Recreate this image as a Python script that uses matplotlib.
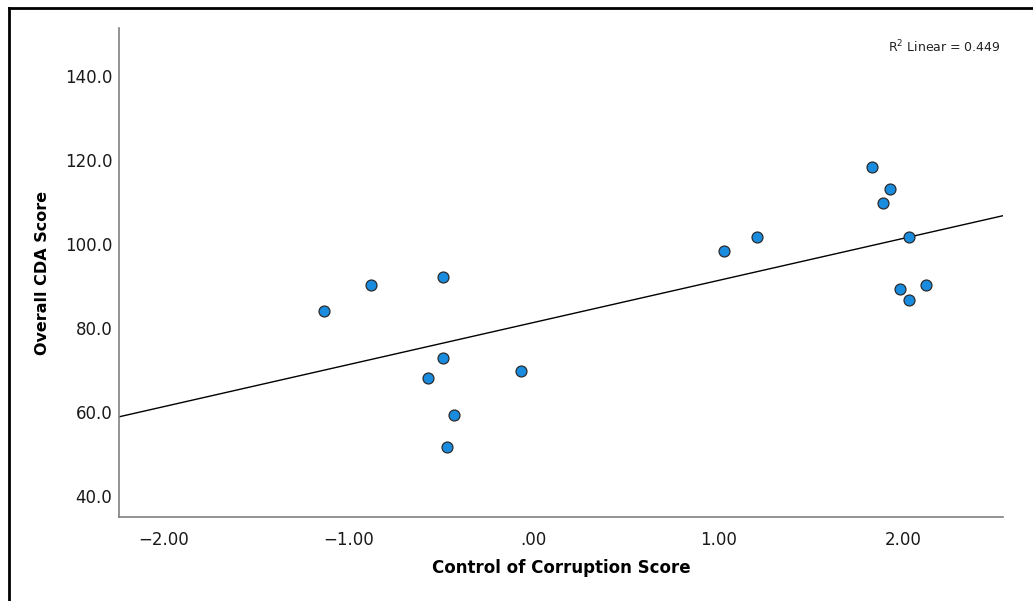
import matplotlib.pyplot as plt
import numpy as np
from matplotlib.lines import Line2D

# Control of Corruption Score vs Overall CDA Score
control_score = [-1.133, -0.882, -0.492, -0.492, -0.571, -0.070, -0.432, -0.470,
                 1.030, 1.210, 1.830, 1.930, 1.891, 2.030, 1.981, 2.122, 2.030]
cda_score = [84.1, 90.2, 92.2, 72.7, 68.1, 69.7, 59.2, 51.7,
             98.2, 101.7, 118.2, 113.1, 109.7, 101.7, 89.2, 90.2, 86.7]

x_ticks = [-2.0, -1.0, 0.0, 1.0, 2.0]
x_tick_labels = ["\u22122.00", "\u22121.00", ".00", "1.00", "2.00"]
y_ticks = [40, 60, 80, 100, 120, 140]
y_tick_labels = ["40.0", "60.0", "80.0", "100.0", "120.0", "140.0"]
r2_label = r"R$^2$ Linear = 0.449"

fig = plt.figure(figsize=(10.33, 6.01), dpi=100)
ax = fig.add_axes([0.1155, 0.1393, 0.971 - 0.1155, 0.9534 - 0.1393])

x = np.array(control_score)
y = np.array(cda_score)

# Linear fit line across the full x range
xlim = (-2.242, 2.54)
slope, intercept = np.polyfit(x, y, 1)
xs = np.array(xlim)
ax.plot(xs, slope * xs + intercept, color="black", linewidth=1.0, zorder=2)

ax.scatter(x, y, s=62, facecolor="#1a8ce0", edgecolor="#2b2b2b",
           linewidth=0.9, zorder=3)

ax.set_xlim(*xlim)
ax.set_ylim(34.85, 151.4)
ax.set_xticks(x_ticks)
ax.set_xticklabels(x_tick_labels)
ax.set_yticks(y_ticks)
ax.set_yticklabels(y_tick_labels)
ax.tick_params(axis="both", length=0, labelsize=12, colors="#1a1a1a")
ax.tick_params(axis="x", pad=10)
ax.tick_params(axis="y", pad=5)

for side in ["top", "right"]:
    ax.spines[side].set_visible(False)
for side in ["left", "bottom"]:
    ax.spines[side].set_color("#808080")
    ax.spines[side].set_linewidth(1.2)

ax.set_xlabel("Control of Corruption Score", fontsize=12, fontweight="bold",
              labelpad=7)
ax.set_ylabel("Overall CDA Score", fontsize=11.5, fontweight="bold",
              labelpad=11)

ax.text(0.998, 0.962, r2_label, transform=ax.transAxes, ha="right",
        va="center", fontsize=9, color="#222222")

# Outer frame (left and top edges visible in the crop)
fig.add_artist(Line2D([9 / 1033, 9 / 1033], [0, 1 - 8 / 601],
                      transform=fig.transFigure, color="black", linewidth=2))
fig.add_artist(Line2D([9 / 1033, 1], [1 - 8 / 601, 1 - 8 / 601],
                      transform=fig.transFigure, color="black", linewidth=2))

fig.savefig("out.png", dpi=100)
